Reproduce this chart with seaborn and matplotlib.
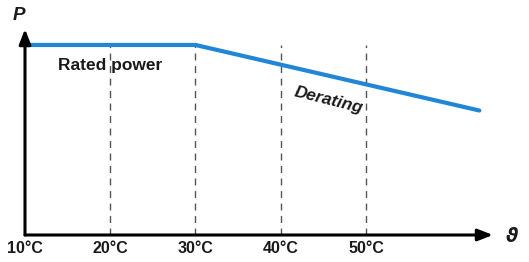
import matplotlib
matplotlib.use("Agg")
import matplotlib.pyplot as plt
import seaborn as sns
import pandas as pd

# Derating curve data
temps = [10, 30, 63.3]
power = [1.0, 1.0, 0.655]
grid_temps = [20, 30, 40, 50]
tick_temps = [10, 20, 30, 40, 50]
tick_labels = ["10°C", "20°C", "30°C", "40°C", "50°C"]

sns.set_style("white")
plt.rcParams["font.family"] = ["Liberation Sans", "DejaVu Sans"]

fig = plt.figure(figsize=(5.29, 2.62), dpi=100)
ax = fig.add_axes([25 / 529, 27 / 262, (493 - 25) / 529, (235 - 29) / 262])

# dashed reference lines
for t in grid_temps:
    ax.plot([t, t], [0, 1.0], color="#555555", lw=1, ls=(0, (5, 4)), zorder=1)

df = pd.DataFrame({"temp": temps, "power": power})
sns.lineplot(data=df, x="temp", y="power", ax=ax, color="#1f86d8", lw=3, zorder=3)

ax.set_xlim(10, 64.9)
ax.set_ylim(0, 1.084)
for s in ax.spines.values():
    s.set_visible(False)
ax.set_xticks([])
ax.set_yticks([])
ax.set_xlabel("")
ax.set_ylabel("")

# axes with arrows
arrow = dict(arrowstyle="-|>,head_length=0.9,head_width=0.35", color="black", lw=2.2,
             shrinkA=0, shrinkB=0)
ax.annotate("", xy=(1, 0), xytext=(0, 0), xycoords="axes fraction", arrowprops=arrow)
ax.annotate("", xy=(0, 1), xytext=(0, 0), xycoords="axes fraction", arrowprops=arrow)

txt = "#1a1a1a"
for t, lab in zip(tick_temps, tick_labels):
    ax.text(t, -0.03, lab, ha="center", va="top", fontsize=11.5, fontweight="bold",
            color=txt, transform=ax.get_xaxis_transform())

ax.text(20, 0.89, "Rated power", ha="center", va="center", fontsize=12.5,
        fontweight="bold", color=txt)
ax.text(45.6, 0.71, "Derating", ha="center", va="center", fontsize=12.5,
        fontweight="bold", fontstyle="italic", rotation=-14, color=txt)

fig.text(19 / 529, 1 - 15 / 262, "P", ha="center", va="center", fontsize=13.5,
         fontweight="bold", fontstyle="italic", color=txt)
fig.text(512 / 529, 1 - 237 / 262, "ϑ", ha="center", va="center", fontsize=13.5,
         fontweight="bold", fontstyle="italic", color=txt, family=["DejaVu Sans"])

fig.savefig("out.png", dpi=100)
